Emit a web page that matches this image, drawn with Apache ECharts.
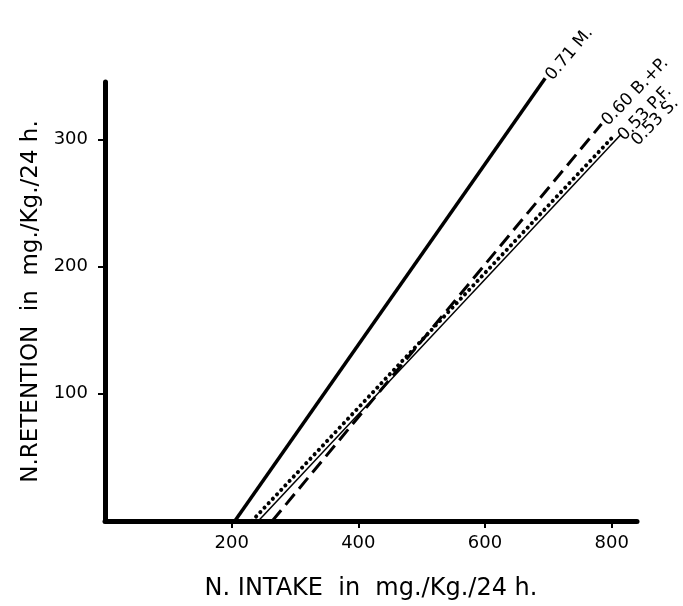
<!DOCTYPE html>
<html>
<head>
<meta charset="UTF-8" />
<title>N. retention vs N. intake</title>
<script src="https://cdn.jsdelivr.net/npm/echarts@6/dist/echarts.min.js"></script>
<style>
  html, body { margin: 0; padding: 0; width: 100%; height: 100%; background: #fff; }
  #chart { width: 683px; height: 606px; }
</style>
</head>
<body>
<div id="chart"></div>
<script>
// values: [intake, retention] end points of each fitted line
const mLine  = [[205, 0], [695, 348]];   // 0.71 M.
const bpLine = [[264, 0], [784, 312]];   // 0.60 B.+P.
const pfLine = [[232, 0], [804, 303]];   // 0.53 P.F.
const sLine  = [[242, 0], [815, 304]];   // 0.53 S.

const xTicks = [200, 400, 600, 800];
const yTicks = [100, 200, 300];

const font = 'DejaVu Sans';

// offset is in the label's rotated frame: [along text, across text]
function lineSeries(name, data, style, angle, offset) {
  return {
    type: 'line', name, data,
    showSymbol: false, silent: true, clip: false,
    lineStyle: Object.assign({ color: '#000' }, style),
    endLabel: {
      show: true, formatter: name, rotate: angle, distance: 4, offset: offset,
      color: '#000', fontFamily: font, fontSize: 17
    }
  };
}

const chart = echarts.init(document.getElementById('chart'));
chart.setOption({
  animation: false,
  grid: { left: 105, right: 46, top: 82, bottom: 75 },
  xAxis: {
    type: 'value', min: 0, max: 840,
    splitLine: { show: false },
    axisLine: { lineStyle: { color: '#000', width: 5 } },
    axisTick: { customValues: xTicks, length: 7, lineStyle: { color: '#000', width: 2 } },
    axisLabel: { customValues: xTicks, color: '#000', fontFamily: font, fontSize: 18, margin: 13 },
    name: 'N. INTAKE  in  mg./Kg./24 h.',
    nameLocation: 'middle', nameGap: 56,
    nameTextStyle: { color: '#000', fontFamily: font, fontSize: 24 }
  },
  yAxis: {
    type: 'value', min: 0, max: 345,
    splitLine: { show: false },
    axisLine: { show: true, lineStyle: { color: '#000', width: 5 } },
    axisTick: { show: true, customValues: yTicks, length: 7, lineStyle: { color: '#000', width: 2 } },
    axisLabel: { customValues: yTicks, color: '#000', fontFamily: font, fontSize: 18, margin: 17 },
    name: 'N.RETENTION  in  mg./Kg./24 h.',
    nameLocation: 'middle', nameGap: 62,
    nameTextStyle: { color: '#000', fontFamily: font, fontSize: 23 }
  },
  series: [
    lineSeries('0.71 M.', mLine, { width: 3.5 }, 50, [0, 0]),
    lineSeries('0.60 B.+P.', bpLine, { width: 3, type: [14, 7] }, 46, [0, -1]),
    lineSeries('0.53 P.F.', pfLine, { width: 4, type: [0.1, 6], cap: 'round' }, 46, [0, 4]),
    lineSeries('0.53 S.', sLine, { width: 1.5 }, 46, [0, 13])
  ]
});
</script>
</body>
</html>
